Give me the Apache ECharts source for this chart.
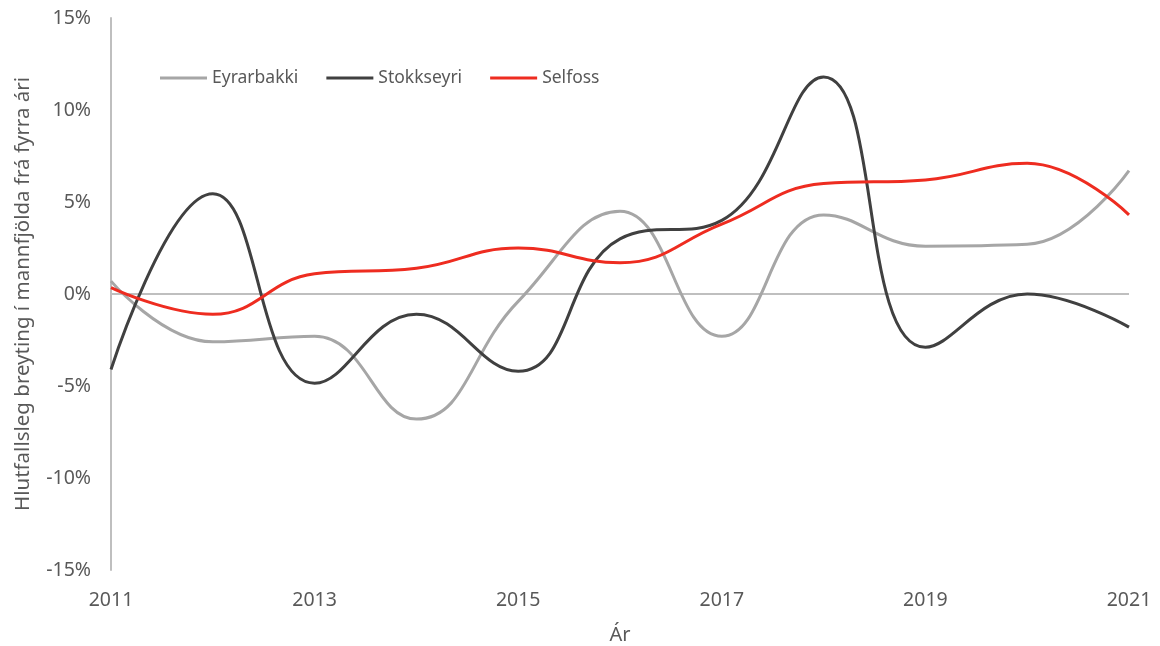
<!DOCTYPE html>
<html>
<head>
<meta charset="utf-8">
<script src="https://cdn.jsdelivr.net/npm/echarts@6/dist/echarts.min.js"></script>
<style>
  html, body { margin: 0; padding: 0; background: #fff; }
  #chart { width: 1160px; height: 646px; }
</style>
</head>
<body>
<div id="chart"></div>
<script>
// Ár (ár)
const years = ['2011', '2012', '2013', '2014', '2015', '2016', '2017', '2018', '2019', '2020', '2021'];

// hlutfallsleg breyting í %
const eyrarbakki = [0.7, -2.6, -2.3, -6.8, -0.4, 4.5, -2.3, 4.3, 2.6, 2.7, 6.7];
const stokkseyri = [-4.1, 5.45, -4.85, -1.1, -4.2, 3.0, 4.0, 11.8, -2.9, 0.0, -1.8];
const selfoss = [0.35, -1.1, 1.1, 1.4, 2.5, 1.7, 3.8, 6.0, 6.2, 7.1, 4.3];

const yTicks = { min: -15, max: 15, step: 5 };

const textColor = '#595959';
const fontFamily = 'Noto Sans, Open Sans, sans-serif';

const chart = echarts.init(document.getElementById('chart'), null, { renderer: 'canvas' });

const lineSeries = (name, data, color) => ({
  name: name,
  type: 'line',
  data: data,
  smooth: 0.45,
  symbol: 'none',
  lineStyle: { color: color, width: 3 },
  itemStyle: { color: color }
});

const option = {
  backgroundColor: '#fff',
  animation: false,
  textStyle: { fontFamily: fontFamily },
  grid: { left: 111, right: 31, top: 18, bottom: 76, containLabel: false, outerBoundsMode: 'none' },
  legend: {
    top: 64,
    left: 155,
    icon: 'rect',
    itemWidth: 47,
    itemHeight: 3,
    itemGap: 28,
    textStyle: { color: textColor, fontSize: 17.5, fontFamily: fontFamily },
    data: ['Eyrarbakki', 'Stokkseyri', 'Selfoss']
  },
  xAxis: {
    type: 'category',
    data: years,
    boundaryGap: false,
    name: 'Ár',
    nameLocation: 'middle',
    nameGap: 55,
    nameTextStyle: { color: textColor, fontSize: 20 },
    axisLine: { show: false },
    axisTick: { show: false },
    axisLabel: { interval: 1, color: textColor, fontSize: 19.5, margin: 20 },
    splitLine: { show: false }
  },
  yAxis: {
    type: 'value',
    min: yTicks.min,
    max: yTicks.max,
    interval: yTicks.step,
    name: 'Hlutfallsleg breyting í mannfjölda frá fyrra ári',
    nameLocation: 'middle',
    nameGap: 77,
    nameTextStyle: { color: textColor, fontSize: 20.5 },
    axisLine: { show: true, onZero: false, lineStyle: { color: '#bfbfbf', width: 2 } },
    axisTick: { show: false },
    axisLabel: { color: textColor, fontSize: 19.5, margin: 20, formatter: '{value}%' },
    splitLine: { show: false }
  },
  series: [
    lineSeries('Eyrarbakki', eyrarbakki, '#a6a6a6'),
    lineSeries('Stokkseyri', stokkseyri, '#404040'),
    Object.assign(lineSeries('Selfoss', selfoss, '#ee2c20'), {
      markLine: {
        silent: true,
        symbol: 'none',
        label: { show: false },
        lineStyle: { color: '#bfbfbf', width: 2, type: 'solid' },
        data: [{ yAxis: 0 }],
        z: 1
      }
    })
  ]
};

chart.setOption(option);
</script>
</body>
</html>
